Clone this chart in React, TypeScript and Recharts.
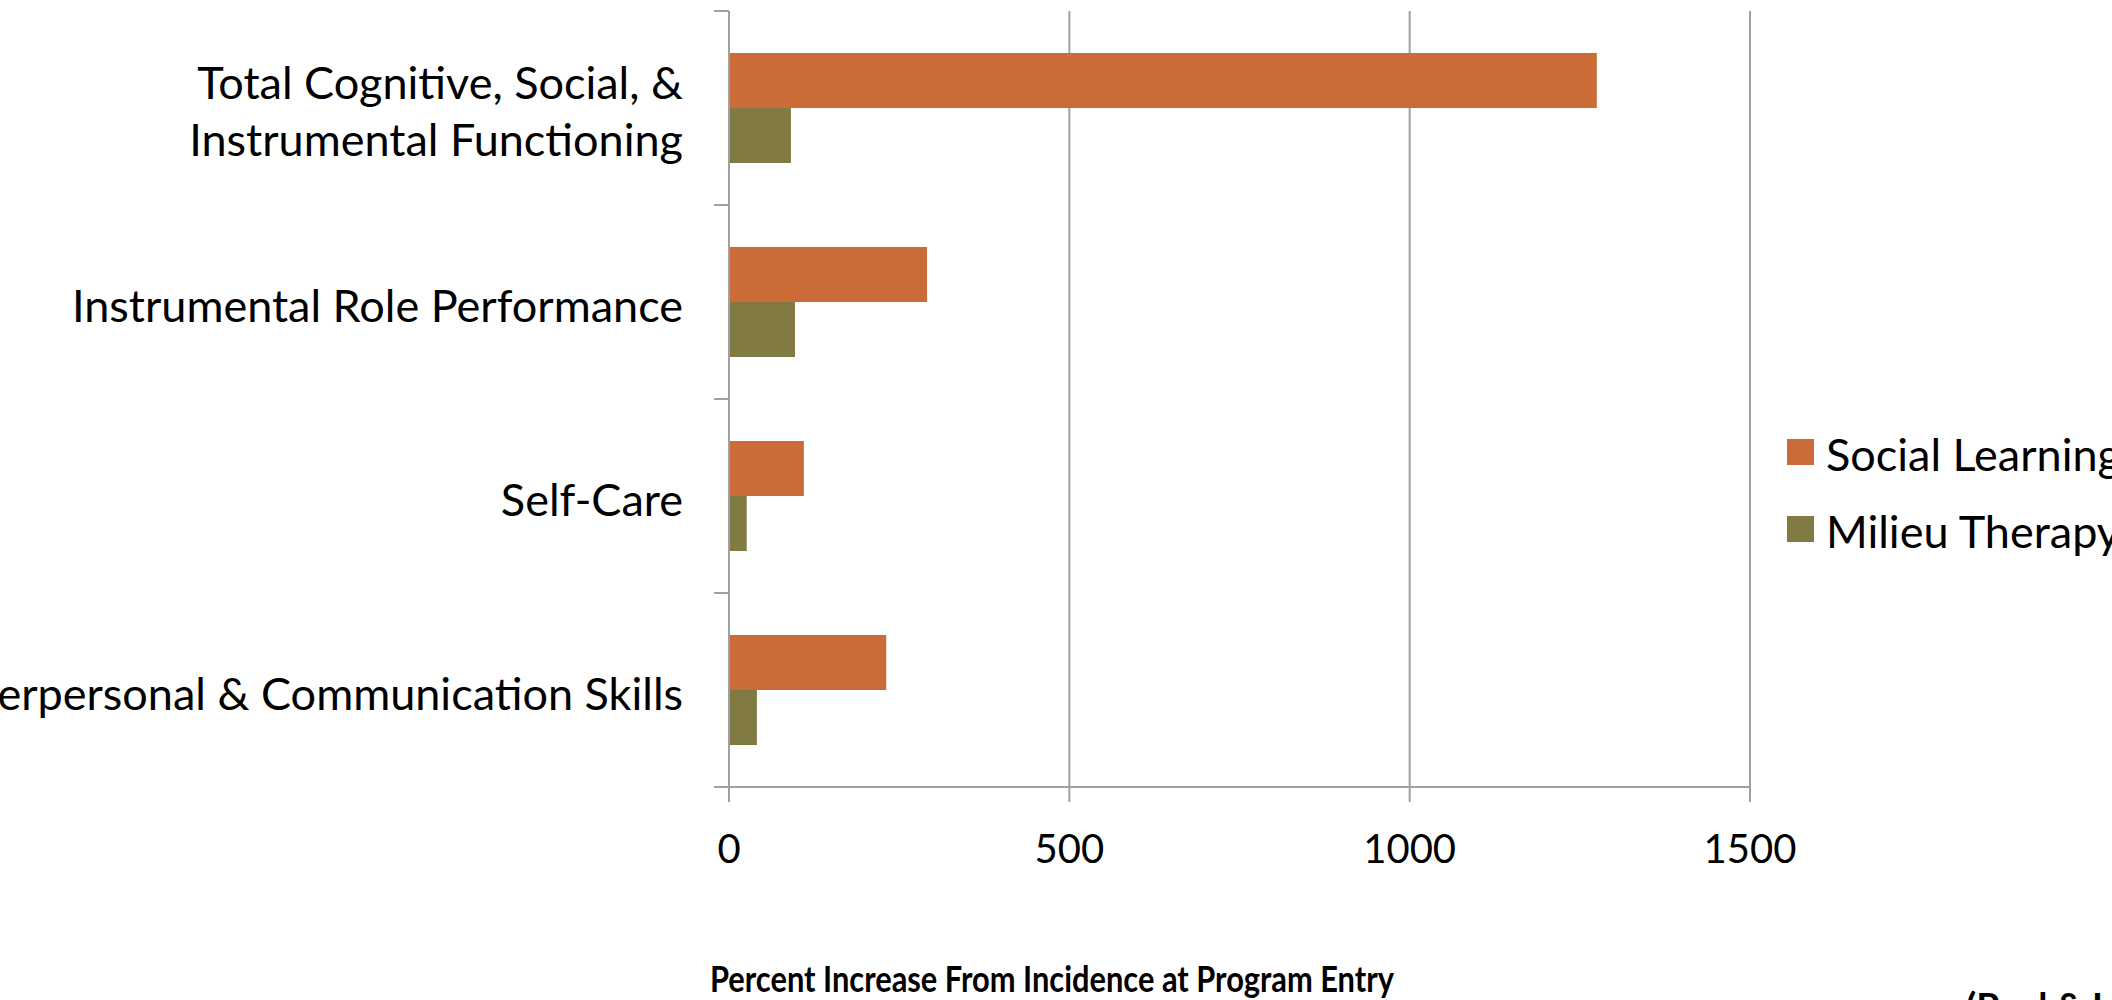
import { BarChart, Bar, XAxis, YAxis, CartesianGrid } from 'recharts';

const categories = [
  'Total Cognitive, Social, &\nInstrumental Functioning',
  'Instrumental Role Performance',
  'Self-Care',
  'Interpersonal & Communication Skills',
];
const socialLearning = [1275, 291, 110, 231];
const milieuTherapy = [91, 97, 26, 41];
const seriesNames = ['Social Learning', 'Milieu Therapy'];
const seriesColors = ['#CB6B38', '#827A43'];
const xTicks = [0, 500, 1000, 1500];
const axisTitle = 'Percent Increase From Incidence at Program Entry';
const citation = '(Paul & Lentz, 1977)';

const WIDTH = 2112;
const HEIGHT = 1000;
const MARGIN = { top: 11, right: 362, bottom: 0, left: 0 };
const Y_AXIS_WIDTH = 729;
const X_AXIS_HEIGHT = 213;
const Y_TICK_MARGIN = 46;
const TICK_LEN = 15;
const FONT = 'Lato, "Open Sans", sans-serif';
const LABEL_SIZE = 45;
const TICK_SIZE = 40;
const GREY = '#A0A0A0';

const PLOT_HEIGHT = HEIGHT - MARGIN.top - MARGIN.bottom - X_AXIS_HEIGHT;
const HALF_BAND = PLOT_HEIGHT / categories.length / 2;

const chartData = categories.map((name, i) => ({
  name,
  [seriesNames[0]]: socialLearning[i],
  [seriesNames[1]]: milieuTherapy[i],
}));

function CategoryTick(props: any) {
  const { x, y, payload } = props;
  const axisX = x + Y_TICK_MARGIN;
  const lines = String(payload.value).split('\n');
  const lineGap = 57;
  const firstY = y + 4 - ((lines.length - 1) * lineGap) / 2;
  const isLast = payload.value === categories[categories.length - 1];
  return (
    <g>
      <line x1={axisX - TICK_LEN} x2={axisX} y1={y - HALF_BAND} y2={y - HALF_BAND} stroke={GREY} strokeWidth={2} />
      {isLast && (
        <line x1={axisX - TICK_LEN} x2={axisX} y1={y + HALF_BAND} y2={y + HALF_BAND} stroke={GREY} strokeWidth={2} />
      )}
      <text textAnchor="end" fill="#000" fontSize={LABEL_SIZE} fontFamily={FONT}>
        {lines.map((line, i) => (
          <tspan key={i} x={x} y={firstY + i * lineGap} dy="0.355em">
            {line}
          </tspan>
        ))}
      </text>
    </g>
  );
}

export default function App() {
  return (
    <div
      style={{
        position: 'absolute',
        left: 0,
        top: 0,
        width: WIDTH,
        height: HEIGHT,
        overflow: 'hidden',
        background: '#fff',
        fontFamily: FONT,
      }}
    >
      <BarChart
        width={WIDTH}
        height={HEIGHT}
        data={chartData}
        layout="vertical"
        margin={MARGIN}
        barCategoryGap={42}
        barGap={0}
      >
        <CartesianGrid horizontal={false} stroke={GREY} strokeWidth={2} />
        <XAxis
          type="number"
          domain={[0, 1500]}
          ticks={xTicks}
          height={X_AXIS_HEIGHT}
          tickSize={TICK_LEN}
          tickMargin={33}
          tick={{ fontSize: TICK_SIZE, fill: '#000', fontFamily: FONT }}
          tickLine={{ stroke: GREY, strokeWidth: 2 }}
          axisLine={{ stroke: GREY, strokeWidth: 2 }}
        />
        <YAxis
          type="category"
          dataKey="name"
          width={Y_AXIS_WIDTH}
          tickSize={0}
          tickMargin={Y_TICK_MARGIN}
          tickLine={false}
          tick={<CategoryTick />}
          axisLine={{ stroke: GREY, strokeWidth: 2 }}
          interval={0}
        />
        {seriesNames.map((s, i) => (
          <Bar key={s} dataKey={s} fill={seriesColors[i]} isAnimationActive={false} />
        ))}
      </BarChart>

      {/* legend */}
      <div style={{ position: 'absolute', left: 1787, top: 415 }}>
        {seriesNames.map((s, i) => (
          <div key={s} style={{ display: 'flex', alignItems: 'center', height: 77, whiteSpace: 'nowrap' }}>
            <div style={{ width: 27, height: 26, background: seriesColors[i], marginRight: 12, marginTop: -4 }} />
            <span style={{ fontSize: LABEL_SIZE, color: '#000' }}>{s}</span>
          </div>
        ))}
      </div>

      {/* axis title and source, both run off the bottom edge like the original slide */}
      <svg width={WIDTH} height={HEIGHT} style={{ position: 'absolute', left: 0, top: 0 }}>
        <text
          x={1052}
          y={992}
          textAnchor="middle"
          fontFamily={FONT}
          fontWeight="bold"
          fontSize={37}
          textLength={684}
          lengthAdjust="spacingAndGlyphs"
          fill="#000"
        >
          {axisTitle}
        </text>
        <text x={1966} y={1019} fontFamily={FONT} fontWeight="bold" fontSize={37} fill="#000">
          {citation}
        </text>
      </svg>
    </div>
  );
}
